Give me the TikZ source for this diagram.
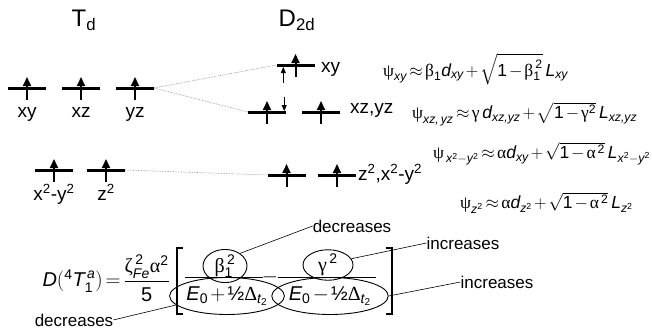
\documentclass[tikz,border=0pt]{standalone}
\usepackage{amsmath}
\usepackage{fontspec}
\setmainfont{Liberation Sans}
\newfontfamily\grk{Liberation Serif}
\usepackage{tikz}
\usetikzlibrary{shapes.geometric, arrows.meta, positioning}

\newcommand{\vi}[1]{\text{\itshape #1}}
\newcommand{\gk}[1]{\text{\grk #1}}
\newcommand{\dg}[1]{\text{#1}}
\thickmuskip=2.5mu
\medmuskip=2mu

\begin{document}
\begin{tikzpicture}[
    x=1pt, y=-1pt,
    level/.style={rectangle, fill=black, minimum width=38pt, minimum height=3pt, inner sep=0pt},
    spin/.style={-{Triangle[width=8pt, length=9pt]}, line width=2pt},
    small spin/.style={-{Triangle[width=5pt, length=6pt]}, line width=0.8pt},
    corr/.style={gray, densely dotted, line width=0.6pt},
    title/.style={font=\fontsize{24}{28}\selectfont},
    orb/.style={font=\fontsize{19}{22}\selectfont, inner sep=0pt},
    eqn/.style={font=\fontsize{17.5}{21}\selectfont, inner sep=0pt, anchor=west},
    term/.style={ellipse, draw, line width=0.9pt, inner sep=0pt},
    big/.style={font=\fontsize{20}{24}\selectfont, inner sep=0pt},
    note/.style={font=\fontsize{17}{20}\selectfont, inner sep=0pt},
    pointer/.style={line width=0.6pt}
]
\useasboundingbox (0,0) rectangle (652,329);

% Titels
\node[title] (td) at (84,20) {T\textsubscript{d}};
\node[title] (d2d) at (297,20) {D\textsubscript{2d}};

% Niveaus Td
\node[level] (t1) at (27,88) {};
\node[level] (t2) at (81,88) {};
\node[level] (t3) at (135,88) {};
\node[level] (t4) at (54,170) {};
\node[level] (t5) at (106,170) {};

% Niveaus D2d
\node[level] (d1) at (295.5,65) {};
\node[level] (d2a) at (267,112) {};
\node[level] (d2b) at (321,112) {};
\node[level] (d3a) at (286.5,175) {};
\node[level] (d3b) at (337,175) {};

% Elektronen
\foreach \lv in {t1,t2,t3,t4,t5,d1,d2a,d2b,d3a,d3b}
    \draw[spin] ([yshift=-12pt]\lv.center) -- ([yshift=11pt]\lv.center);
\draw[small spin] ([xshift=7pt, yshift=-18pt]d1.west) -- ([xshift=7pt, yshift=-2pt]d1.west);
\draw[small spin] ([xshift=-2pt, yshift=15pt]d2a.east) -- ([xshift=-2pt, yshift=1pt]d2a.east);

% Correlaties
\draw[corr] (t3.east) -- (d1.west);
\draw[corr] (t3.east) -- (d2a.west);
\draw[corr] (t5.east) -- (d3a.west);

% Orbitaallabels
\node[orb, anchor=base] (lxy) at (27,117) {xy};
\node[orb, anchor=base] (lxz) at (81,117) {xz};
\node[orb, anchor=base] (lyz) at (135,117) {yz};
\node[orb, anchor=base] (lx2) at (54,200) {x\textsuperscript{2}-y\textsuperscript{2}};
\node[orb, anchor=base] (lz2) at (106,200) {z\textsuperscript{2}};
\node[orb, anchor=base west] (mxy) at (321,72) {xy};
\node[orb, anchor=base west] (mxz) at (350,113) {xz,yz};
\node[orb, anchor=base west] (mz2) at (358,180) {z\textsuperscript{2},x\textsuperscript{2}-y\textsuperscript{2}};

% Golffuncties
\node[eqn] (psi1) at (383,69) {$\gk{ψ}_{\vi{xy}}\approx\gk{β}_{\dg{1}}\vi{d}_{\vi{xy}}+\sqrt{\dg{1}-\gk{β}_{\dg{1}}^{\,\dg{2}}}\,\vi{L}_{\vi{xy}}$};
\node[eqn] (psi2) at (412,114) {$\gk{ψ}_{\vi{xz,\,yz}}\approx\gk{γ}\,\vi{d}_{\vi{xz,yz}}+\sqrt{\dg{1}-\gk{γ}^{\dg{2}}}\,\vi{L}_{\vi{xz,yz}}$};
\node[eqn] (psi3) at (433,154) {$\gk{ψ}_{\,\vi{x}^{\dg{2}}-\vi{y}^{\dg{2}}}\approx\gk{α}\vi{d}_{\vi{xy}}+\sqrt{\dg{1}-\gk{α}^{\,\dg{2}}}\,\vi{L}_{\vi{x}^{\dg{2}}-\vi{y}^{\dg{2}}}$};
\node[eqn] (psi4) at (460,203) {$\gk{ψ}_{\vi{z}^{\dg{2}}}\approx\gk{α}\vi{d}_{\vi{z}^{\dg{2}}}+\sqrt{\dg{1}-\gk{α}^{\,\dg{2}}}\,\vi{L}_{\vi{z}^{\dg{2}}}$};

% Formule onderaan
\node[big, anchor=east] (lhs) at (170,278) {$\vi{D}({}^{\dg{4}}\vi{T}_{\dg{1}}^{\,\vi{a}})=\dfrac{\gk{ζ}_{\vi{Fe}}^{\,\dg{2}}\gk{α}^{\dg{2}}}{\dg{5}}$};
\draw[line width=2.5pt] (183,248) -- (177,248) -- (177,314) -- (183,314);
\draw[line width=2.5pt] (386,248) -- (392,248) -- (392,314) -- (386,314);
\node[term, big, minimum width=44pt, minimum height=26pt] (num1) at (225,266) {$\gk{β}_{\dg{1}}^{\,\dg{2}}$};
\node[term, big, minimum width=103pt, minimum height=37pt] (den1) at (227,296) {$\vi{E}_{\dg{0}}+\text{½}\gk{Δ}_{\vi{t}_{\dg{2}}}$};
\node[term, big, minimum width=50pt, minimum height=28pt] (num2) at (328,265) {$\gk{γ}^{\,\dg{2}}$};
\node[term, big, minimum width=104pt, minimum height=37pt] (den2) at (330,296) {$\vi{E}_{\dg{0}}-\text{½}\gk{Δ}_{\vi{t}_{\dg{2}}}$};
\draw[line width=0.8pt] (185,277) -- (263,277);
\node[big] (minus) at (270,277) {$-$};
\draw[line width=0.8pt] (278,277) -- (376,277);

% Toelichting
\node[note] (dec1) at (352,226) {decreases};
\node[note] (inc1) at (463,243) {increases};
\node[note] (inc2) at (497,282) {increases};
\node[note, anchor=base] (dec2) at (74,326) {decreases};
\draw[pointer] (num1.40) -- (dec1.west);
\draw[pointer] (num2.15) -- (inc1.west);
\draw[pointer] (den2.east) -- (inc2.west);
\draw[pointer] (den1.190) -- (dec2.east);

\end{tikzpicture}
\end{document}
